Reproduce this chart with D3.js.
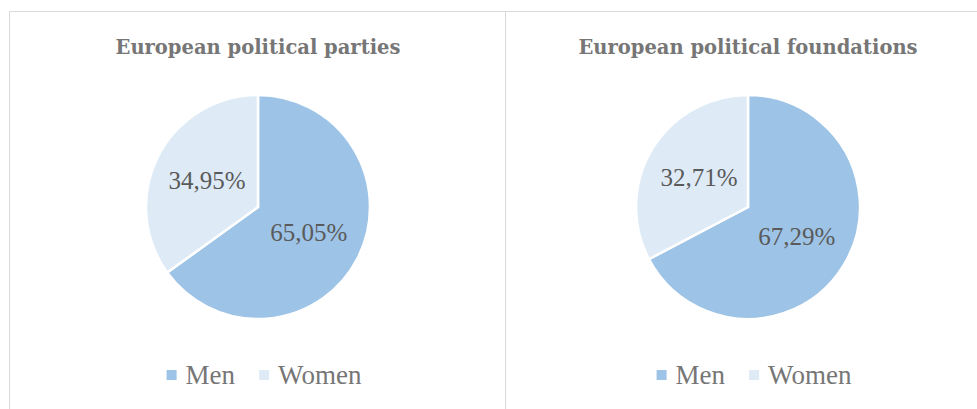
<!DOCTYPE html>
<html lang="en">
<head>
    <meta charset="UTF-8">
    <title>European political parties and foundations - gender split</title>
    <style>
        body { margin: 0; background: #fff; }
        .title { font-family: "DejaVu Serif", serif; font-weight: bold; font-size: 19.5px; fill: #767676; }
        .label { font-family: "Liberation Serif", serif; font-size: 25px; fill: #5a5a5a; }
        .legend text { font-family: "Liberation Serif", serif; font-size: 27px; fill: #767676; }
        .frame { stroke: #d9d9d9; stroke-width: 1px; fill: none; }
    </style>
</head>
<body>
    <div id="chart"></div>
    <script src="https://d3js.org/d3.v7.min.js"></script>
    <script>
        // data
        const categories = ["Men", "Women"];
        const chartTitles = ["European political parties", "European political foundations"];
        const partiesValues = [65.05, 34.95];
        const foundationsValues = [67.29, 32.71];

        const colors = d3.scaleOrdinal()
            .domain(categories)
            .range(["#9dc3e6", "#deebf7"]);

        // comma as decimal separator
        const locale = d3.formatLocale({ decimal: ",", thousands: ".", grouping: [3], currency: ["", "€"] });
        const fmt = locale.format(".2f");

        const width = 977, height = 409;
        const svg = d3.select("#chart").append("svg")
            .attr("width", width)
            .attr("height", height);

        // panel frames
        svg.append("path").attr("class", "frame")
            .attr("d", `M9.5,${height} V11.5 H${width} M505.5,11.5 V${height}`);

        const panels = [
            { title: chartTitles[0], values: partiesValues, cx: 258, legendX: 264 },
            { title: chartTitles[1], values: foundationsValues, cx: 748, legendX: 754 }
        ];

        const cy = 207, radius = 112;
        const pie = d3.pie().sort(null).value(d => d.value);
        const arc = d3.arc().innerRadius(0).outerRadius(radius);
        const labelArc = d3.arc().innerRadius(radius * 0.51).outerRadius(radius * 0.51);

        panels.forEach(p => {
            const data = categories.map((c, i) => ({ name: c, value: p.values[i] }));

            svg.append("text")
                .attr("class", "title")
                .attr("x", p.cx)
                .attr("y", 54)
                .attr("text-anchor", "middle")
                .text(p.title);

            const g = svg.append("g")
                .attr("transform", `translate(${p.cx},${cy})`);

            const arcs = pie(data);

            g.selectAll("path")
                .data(arcs)
                .enter().append("path")
                .attr("d", arc)
                .attr("fill", d => colors(d.data.name))
                .attr("stroke", "#fff")
                .attr("stroke-width", 2.5);

            g.selectAll("text")
                .data(arcs)
                .enter().append("text")
                .attr("class", "label")
                .attr("transform", d => `translate(${labelArc.centroid(d)})`)
                .attr("text-anchor", "middle")
                .attr("dy", "0.33em")
                .text(d => fmt(d.data.value) + "%");

            // legend
            const legend = svg.append("g").attr("class", "legend");
            let xPos = 0;
            categories.forEach((c, i) => {
                const item = legend.append("g").attr("transform", `translate(${xPos},0)`);
                item.append("rect")
                    .attr("x", 0)
                    .attr("y", -14)
                    .attr("width", 10)
                    .attr("height", 10)
                    .attr("fill", colors(c));
                const t = item.append("text")
                    .attr("x", 19)
                    .attr("y", 0)
                    .text(c);
                xPos += 19 + t.node().getComputedTextLength() + 24;
            });
            const total = xPos - 24;
            legend.attr("transform", `translate(${p.legendX - total / 2},384)`);
        });
    </script>
</body>
</html>
